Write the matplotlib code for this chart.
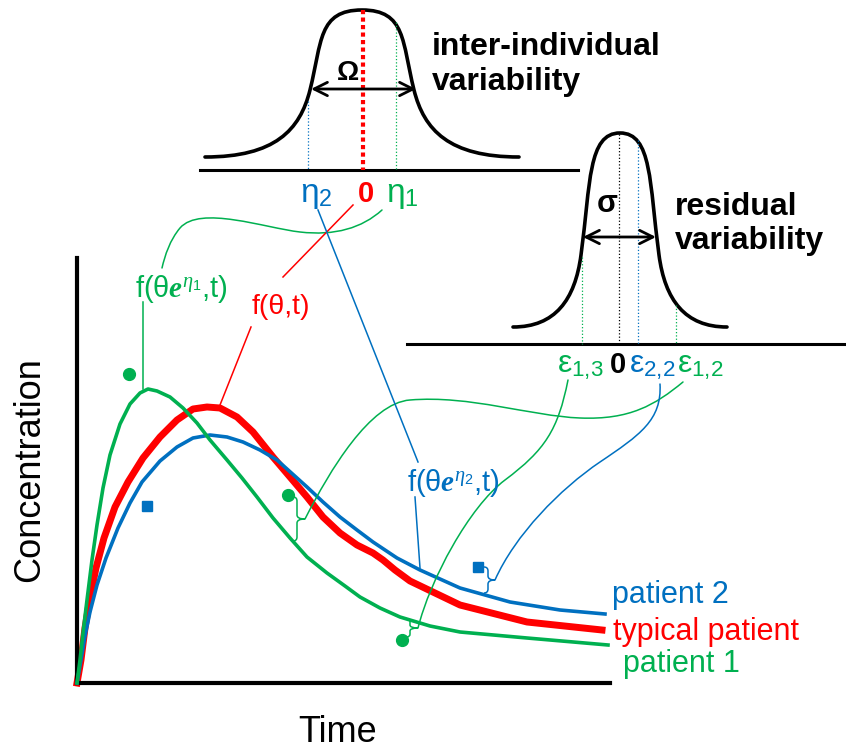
import matplotlib
matplotlib.use("Agg")
import matplotlib.pyplot as plt
from matplotlib.path import Path
from matplotlib.patches import PathPatch

plt.rcParams['font.family'] = ['Liberation Sans', 'DejaVu Sans']
plt.rcParams['mathtext.fontset'] = 'custom'
plt.rcParams['mathtext.rm'] = 'Liberation Sans'
plt.rcParams['mathtext.it'] = 'Liberation Serif:italic'
plt.rcParams['mathtext.bf'] = 'Liberation Sans:bold'
plt.rcParams['mathtext.bfit'] = 'Liberation Serif:italic:bold'

GREEN = '#00B050'
BLUE = '#0070C0'
RED = '#FF0000'

# concentration-time profiles, arbitrary units
t_p1 = [0, 3, 6, 10, 15, 20, 26, 33, 43, 53, 63, 71, 80, 93, 106, 120, 133, 150, 165,
        180, 196, 213, 230, 250, 268, 283, 303, 323, 353, 383, 450, 531]
c_p1 = [0, 23, 50, 83, 123, 158, 195, 228, 259, 279, 290, 294, 292, 286, 275, 260, 243,
        223, 205, 186, 165, 145, 126, 110, 97, 86, 75, 66, 57, 51, 45, 38]

t_typ = [0, 4, 8, 13, 19, 27, 38, 51, 66, 83, 100, 116, 130, 143, 160, 176, 196, 213, 230, 246,
         263, 280, 296, 306, 318, 333, 383, 450, 525]
c_typ = [0, 23, 55, 85, 115, 145, 176, 201, 225, 246, 263, 274, 276, 275, 266, 251, 226, 206, 186,
         166, 150, 138, 130, 123, 113, 102, 78, 61, 53]

t_p2 = [0, 4, 8, 13, 20, 29, 41, 53, 65, 83, 100, 116, 133, 150, 166, 183, 200, 220, 230, 246,
        263, 280, 296, 320, 343, 383, 433, 483, 528]
c_p2 = [0, 23, 47, 71, 98, 125, 155, 180, 201, 222, 236, 245, 248, 246, 241, 233, 223, 205, 196,
        181, 166, 153, 141, 125, 113, 95, 81, 73, 69]

# observations
t_obs1 = [52, 211, 325]
c_obs1 = [309, 188, 43]
t_obs2 = [70, 401]
c_obs2 = [177, 116]

legend_labels = ['patient 2', 'typical patient', 'patient 1']

W, H = 846, 750
fig = plt.figure(figsize=(W / 100, H / 100), dpi=100)

# main concentration-time axes
ax = fig.add_axes([77 / W, 1 - 683 / H, 533 / W, 425 / H])
ax.set_xlim(0, 533)
ax.set_ylim(0, 425)
ax.plot(t_typ, c_typ, color=RED, lw=5, zorder=2, clip_on=False, solid_joinstyle='round')
ax.plot(t_p2, c_p2, color=BLUE, lw=2.6, zorder=3, clip_on=False, solid_joinstyle='round')
ax.plot(t_p1, c_p1, color=GREEN, lw=2.6, zorder=3, clip_on=False, solid_joinstyle='round')
ax.plot(t_obs1, c_obs1, 'o', color=GREEN, ms=8.5, zorder=4, clip_on=False)
ax.plot(t_obs2, c_obs2, 's', color=BLUE, ms=7.5, zorder=4, clip_on=False)
for s in ['top', 'right']:
    ax.spines[s].set_visible(False)
for s in ['left', 'bottom']:
    ax.spines[s].set_linewidth(3)
    ax.spines[s].set_color('black')
ax.set_xticks([])
ax.set_yticks([])
ax.patch.set_alpha(0)

# overlay in pixel units for the schematic parts
ov = fig.add_axes([0, 0, 1, 1], zorder=5)
ov.set_xlim(0, W)
ov.set_ylim(H, 0)
ov.axis('off')


def bezier(pts, color, lw):
    codes = [Path.MOVETO] + [Path.CURVE4] * (len(pts) - 1)
    ov.add_patch(PathPatch(Path(pts, codes), fc='none', ec=color, lw=lw, capstyle='round'))


def brace(x, y0, y1, w, color):
    ym = (y0 + y1) / 2
    r = min(4, (y1 - y0) / 6)
    verts = [(x - r, y0), (x, y0), (x, y0 + r), (x, ym - r), (x, ym), (x + w, ym),
             (x, ym), (x, ym + r), (x, y1 - r), (x, y1), (x - r, y1)]
    C3 = Path.CURVE3
    codes = [Path.MOVETO, C3, C3, Path.LINETO, C3, C3, C3, C3, Path.LINETO, C3, C3]
    ov.add_patch(PathPatch(Path(verts, codes), fc='none', ec=color, lw=1.1))


# inter-individual variability bell
bezier([(205, 157), (275, 157), (300, 130), (310, 90), (322, 42), (318, 10), (362, 10),
        (406, 10), (402, 42), (414, 90), (424, 130), (449, 157), (519, 157)], 'black', 2.6)
ov.plot([200, 578], [170, 170], color='black', lw=2.2)
ov.plot([363, 363], [10, 170], color=RED, lw=3, ls=(0, (1, 0.8)))
ov.plot([308, 308], [101, 170], color=BLUE, lw=0.9, ls=':')
ov.plot([396, 396], [22, 170], color=GREEN, lw=0.9, ls=':')
ov.annotate('', xy=(416, 89), xytext=(311, 89),
            arrowprops=dict(arrowstyle='<->', color='black', lw=2, mutation_scale=24,
                            shrinkA=0, shrinkB=0))
ov.text(348, 80, 'Ω', fontsize=20, fontweight='bold', ha='center', va='baseline')
ov.text(432, 55, 'inter-individual', fontsize=23, fontweight='bold', va='baseline')
ov.text(432, 90, 'variability', fontsize=23, fontweight='bold', va='baseline')
ov.text(316, 202, r'$\mathrm{\eta}_2$', fontsize=24, color=BLUE, ha='center', va='baseline')
ov.text(366, 202, '0', fontsize=21, fontweight='bold', color=RED, ha='center', va='baseline')
ov.text(402, 202, r'$\mathrm{\eta}_1$', fontsize=24, color=GREEN, ha='center', va='baseline')

# residual variability bell
bezier([(513, 327), (555, 327), (575, 300), (581, 255), (590.6, 183), (588, 133), (620, 133),
        (652, 133), (649.4, 183), (659, 255), (665, 300), (685, 327), (727, 327)], 'black', 2.6)
ov.plot([407, 846], [344, 344], color='black', lw=2.2)
ov.plot([619, 619], [134, 344], color='black', lw=0.9, ls=':')
ov.plot([638, 638], [140, 344], color=BLUE, lw=0.9, ls=':')
ov.plot([582, 582], [257, 344], color=GREEN, lw=0.9, ls=':')
ov.plot([676, 676], [305, 344], color=GREEN, lw=0.9, ls=':')
ov.annotate('', xy=(656, 237), xytext=(583, 237),
            arrowprops=dict(arrowstyle='<->', color='black', lw=2, mutation_scale=24,
                            shrinkA=0, shrinkB=0))
ov.text(607, 212, 'σ', fontsize=22, fontweight='bold', ha='center', va='baseline')
ov.text(675, 215, 'residual', fontsize=23, fontweight='bold', va='baseline')
ov.text(675, 249, 'variability', fontsize=23, fontweight='bold', va='baseline')
ov.text(580, 373, r'$\mathrm{\varepsilon}_{1{,}3}$', fontsize=23, color=GREEN, ha='center', va='baseline')
ov.text(618, 373, '0', fontsize=21, fontweight='bold', color='black', ha='center', va='baseline')
ov.text(652, 373, r'$\mathrm{\varepsilon}_{2{,}2}$', fontsize=23, color=BLUE, ha='center', va='baseline')
ov.text(700, 373, r'$\mathrm{\varepsilon}_{1{,}2}$', fontsize=23, color=GREEN, ha='center', va='baseline')

# function labels and connectors
ov.text(135, 297, r'f(θ$\boldsymbol{e}^{\eta_1}$,t)', fontsize=21, color=GREEN, va='baseline')
ov.text(252, 314, 'f(θ,t)', fontsize=20.5, color=RED, va='baseline')
ov.text(407, 491, r'f(θ$\boldsymbol{e}^{\eta_2}$,t)', fontsize=21, color=BLUE, va='baseline')

bezier([(382, 210), (362, 228), (335, 236), (300, 232), (265, 228), (200, 205), (180, 228),
        (170, 240), (165, 255), (162, 268)], GREEN, 1.1)
ov.plot([143, 143], [389, 302], color=GREEN, lw=1.1)
ov.plot([220, 251], [405, 327], color=RED, lw=1.1)
ov.plot([283, 353], [277, 205], color=RED, lw=1.1)
ov.plot([318, 418], [210, 462], color=BLUE, lw=1.1)
ov.plot([415, 420], [497, 568], color=BLUE, lw=1.1)

# residual connectors and braces
brace(297, 497, 541, 8, GREEN)
brace(410, 619, 637, 8, GREEN)
brace(488, 567, 593, 7, BLUE)
bezier([(683, 382), (655, 405), (630, 420), (580, 418), (530, 416), (470, 395), (410, 400),
        (370, 403), (330, 470), (305, 519)], GREEN, 1.1)
bezier([(568, 380), (558, 430), (545, 450), (505, 480), (469, 507), (430, 580), (418, 628)],
       GREEN, 1.1)
bezier([(660, 384), (662, 420), (640, 435), (600, 462), (560, 489), (515, 535), (495, 580)],
       BLUE, 1.1)

# series labels and axis titles
ov.text(612, 603, legend_labels[0], fontsize=22, color=BLUE, va='baseline')
ov.text(613, 640, legend_labels[1], fontsize=22, color=RED, va='baseline')
ov.text(623, 672, legend_labels[2], fontsize=22, color=GREEN, va='baseline')
ov.text(30, 470, 'Concentration', fontsize=26, rotation=90, ha='center', va='center')
ov.text(338, 742, 'Time', fontsize=26, ha='center', va='baseline')

fig.savefig('out.png', dpi=100)
